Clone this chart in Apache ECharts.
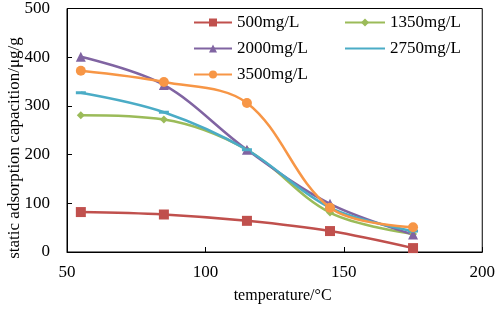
<!DOCTYPE html>
<html><head><meta charset="utf-8">
<script src="https://cdn.jsdelivr.net/npm/echarts@6/dist/echarts.min.js"></script>
<style>html,body{margin:0;padding:0;background:#fff}#c{width:498px;height:309px}</style>
</head><body><div id="c"></div>
<script>
const temperatures = [55, 85, 115, 145, 175];
const s500 = [82, 77, 64, 43, 8];
const s1350 = [281, 272, 210, 81, 37];
const s2000 = [401, 343, 210, 99, 36];
const s2750 = [327, 287, 210, 91, 43];
const s3500 = [372, 349, 306, 91, 51];
const xTicks = [50, 100, 150, 200];
const yTicks = [0, 100, 200, 300, 400, 500];
const xName = 'temperature/°C';
const yName = 'static adsorption capacition/μg/g';

const font = 'Liberation Serif';
function mk(name, data, color, symbol, size) {
  return {
    name, type: 'line', smooth: 0.35,
    data: temperatures.map((t, i) => [t, data[i]]),
    symbol, symbolSize: size,
    lineStyle: { color, width: 2.5 },
    itemStyle: { color },
    z: 2
  };
}
const chart = echarts.init(document.getElementById('c'));
const legText = { fontFamily: font, fontSize: 17, color: '#000', lineHeight: 17 };
chart.setOption({
  animation: false,
  grid: { left: 67, right: 13, top: 6, bottom: 54, show: true, borderColor: '#000', borderWidth: 1 },
  legend: [
    { data: ['500mg/L', '2000mg/L', '3500mg/L'], orient: 'vertical', left: 193, top: 14,
      itemWidth: 38, itemHeight: 10, itemGap: 9, padding: 0,
      textStyle: legText },
    { data: ['1350mg/L', { name: '2750mg/L', itemStyle: { opacity: 0 } }], orient: 'vertical', left: 344, top: 14,
      itemWidth: 40, itemHeight: 10, itemGap: 9, padding: 0,
      textStyle: legText }
  ],
  graphic: [
    { type: 'text', x: 15, y: 148, rotation: Math.PI / 2,
      style: { text: yName, font: '17px "Liberation Serif"', fill: '#000', align: 'center', verticalAlign: 'middle' } }
  ],
  xAxis: {
    type: 'value', min: xTicks[0], max: xTicks[xTicks.length - 1], interval: 50,
    name: xName, nameLocation: 'middle', nameGap: 36,
    nameTextStyle: { fontFamily: font, fontSize: 16, color: '#000', padding: [0, 0, 0, 16] },
    axisLine: { lineStyle: { color: '#000' } },
    axisTick: { inside: true, length: 5, lineStyle: { color: '#000' } },
    axisLabel: { fontFamily: font, fontSize: 17, color: '#000', margin: 12 },
    splitLine: { show: false }
  },
  yAxis: {
    type: 'value', min: yTicks[0], max: yTicks[yTicks.length - 1], interval: 100,
    axisLine: { show: true, lineStyle: { color: '#000' } },
    axisTick: { show: true, inside: true, length: 5, lineStyle: { color: '#000' } },
    axisLabel: { fontFamily: font, fontSize: 17, color: '#000', margin: 17 },
    splitLine: { show: false }
  },
  series: [
    mk('500mg/L', s500, '#C0504D', 'rect', 10),
    mk('1350mg/L', s1350, '#9BBB59', 'diamond', 8),
    mk('2000mg/L', s2000, '#8064A2', 'triangle', 10),
    mk('2750mg/L', s2750, '#4BACC6', 'rect', [10, 3]),
    mk('3500mg/L', s3500, '#F79646', 'circle', 10)
  ]
});
</script></body></html>
